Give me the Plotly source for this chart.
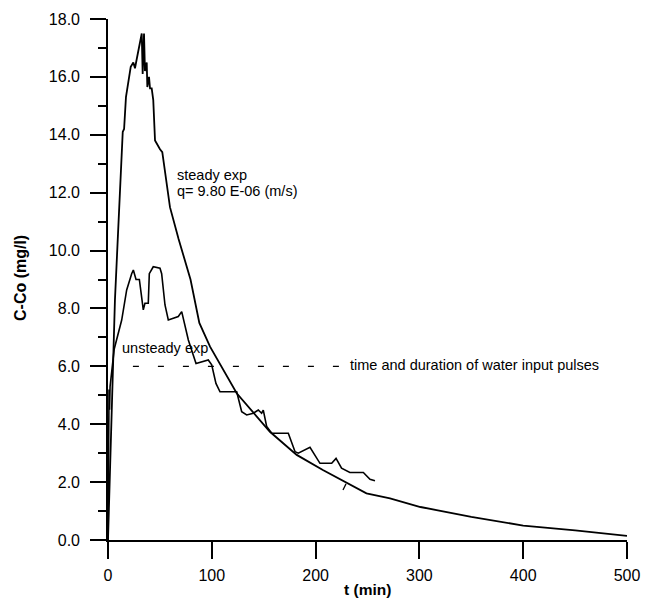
import plotly.graph_objects as go

# steady experiment (t in min, C-Co in mg/l)
steady_t = [0, 6.7, 14.2, 15.5, 17.3, 19.3, 21.9, 24.4, 26.0, 27.6, 29.9, 31.5, 32.5, 33.4, 34.7,
            35.6, 37.3, 37.9, 39.5, 40.5, 42.1, 43.6, 45.3, 50.1, 52.3, 59.7, 68.0, 79.5, 85.4,
            88.0, 98.3, 124, 156, 181.8, 207, 249, 271.7, 301, 350, 400, 450, 500]
steady_c = [0, 8.3, 14.1, 14.2, 15.3, 15.7, 16.35, 16.5, 16.3, 16.6, 17.0, 17.4, 17.5, 16.1, 17.5,
            16.2, 16.5, 15.65, 16.0, 15.6, 15.6, 15.2, 13.8, 13.5, 13.4, 11.5, 10.4, 9.0, 7.9,
            7.5, 6.68, 5.07, 3.74, 2.94, 2.42, 1.61, 1.44, 1.14, 0.8, 0.5, 0.33, 0.14]

# unsteady experiment
unsteady_t = [0, 1.0, 1.5, 2.0, 6.0, 13.2, 18.0, 22.8, 24.4, 27.0, 30.2, 34.0, 35.6, 38.8, 39.8,
              43.6, 50.1, 51.7, 54.9, 58.1, 67.7, 71.0, 77.4, 84.8, 96.6, 99.9, 104, 107.9, 124,
              128.8, 133.6, 140, 144.8, 148, 149.6, 152.9, 157.7, 173.7, 180.2, 183.3, 194.6,
              204.2, 215.5, 219.7, 225, 233, 246, 252.4, 257.2]
unsteady_c = [0, 5.2, 4.5, 5.3, 6.6, 7.6, 8.64, 9.2, 9.33, 9.0, 9.0, 7.95, 8.18, 8.18, 9.2,
              9.44, 9.39, 9.2, 8.12, 7.6, 7.72, 7.89, 6.91, 6.1, 6.22, 6.05, 5.41, 5.12, 5.12,
              4.43, 4.32, 4.38, 4.49, 4.38, 4.49, 3.92, 3.69, 3.69, 3.05, 3.0, 3.2,
              2.65, 2.65, 2.82, 2.48, 2.33, 2.33, 2.1, 2.05]

# water input pulse indicator (dashed) and stray mark
pulse_t = [24, 222.5]
pulse_c = [6.0, 6.0]
mark_t = [226.4, 229.3]
mark_c = [1.73, 1.94]

x_ticks = [0, 100, 200, 300, 400, 500]
y_ticks = [0, 2, 4, 6, 8, 10, 12, 14, 16, 18]
y_minor = [1, 3, 5, 7, 9, 11, 13, 15, 17]

FONT = "Liberation Sans, Arial, sans-serif"

fig = go.Figure()
fig.add_trace(go.Scatter(x=steady_t, y=steady_c, mode="lines",
                         line=dict(color="black", width=1.8), showlegend=False))
fig.add_trace(go.Scatter(x=unsteady_t, y=unsteady_c, mode="lines",
                         line=dict(color="black", width=1.6), showlegend=False))
fig.add_trace(go.Scatter(x=pulse_t, y=pulse_c, mode="lines",
                         line=dict(color="black", width=1.4, dash="6px,19px"), showlegend=False))
fig.add_trace(go.Scatter(x=mark_t, y=mark_c, mode="lines",
                         line=dict(color="black", width=1.3), showlegend=False))

ann_font = dict(family=FONT, size=14.5, color="black")
fig.add_annotation(x=64.5, y=12.6, text="steady exp", showarrow=False,
                   xanchor="left", yanchor="middle", font=ann_font)
fig.add_annotation(x=64.5, y=12.05, text="q= 9.80 E-06 (m/s)", showarrow=False,
                   xanchor="left", yanchor="middle", font=ann_font)
fig.add_annotation(x=12.0, y=6.63, text="unsteady exp", showarrow=False,
                   xanchor="left", yanchor="middle", font=ann_font)
fig.add_annotation(x=231, y=6.05, text="time and duration of water input pulses", showarrow=False,
                   xanchor="left", yanchor="middle", font=ann_font)

# axis titles
fig.add_annotation(xref="paper", yref="paper", x=(367 - 108) / 519, y=(540 - 589) / 521,
                   text="<b>t (min)</b>", showarrow=False, xanchor="center", yanchor="middle",
                   font=dict(family=FONT, size=15.5, color="black"))
fig.add_annotation(xref="paper", yref="paper", x=(20 - 108) / 519, y=(540 - 278) / 521,
                   text="<b>C-Co (mg/l)</b>", showarrow=False, xanchor="center", yanchor="middle",
                   textangle=-90, font=dict(family=FONT, size=16, color="black"))

tick_font = dict(family=FONT, size=16, color="black")
fig.update_layout(
    width=651, height=602,
    margin=dict(l=108, r=24, t=19, b=62),
    plot_bgcolor="white", paper_bgcolor="white",
    font=dict(family=FONT, size=14, color="black"),
    xaxis=dict(range=[0, 500], tickvals=x_ticks, ticks="outside", ticklen=17, tickwidth=1.8,
               tickcolor="black", showline=True, linecolor="black", linewidth=1.6,
               showgrid=False, zeroline=False, ticklabelstandoff=3, tickfont=tick_font),
    yaxis=dict(range=[0, 18], tickvals=y_ticks, tickformat=".1f", ticks="outside", ticklen=16,
               tickwidth=1.8, tickcolor="black", showline=True, linecolor="black", linewidth=1.6,
               showgrid=False, zeroline=False, ticklabelstandoff=7,
               minor=dict(tickvals=y_minor, ticks="outside", ticklen=8,
                          tickwidth=1.6, tickcolor="black", showgrid=False),
               tickfont=tick_font),
)

fig.write_html("out.html")
